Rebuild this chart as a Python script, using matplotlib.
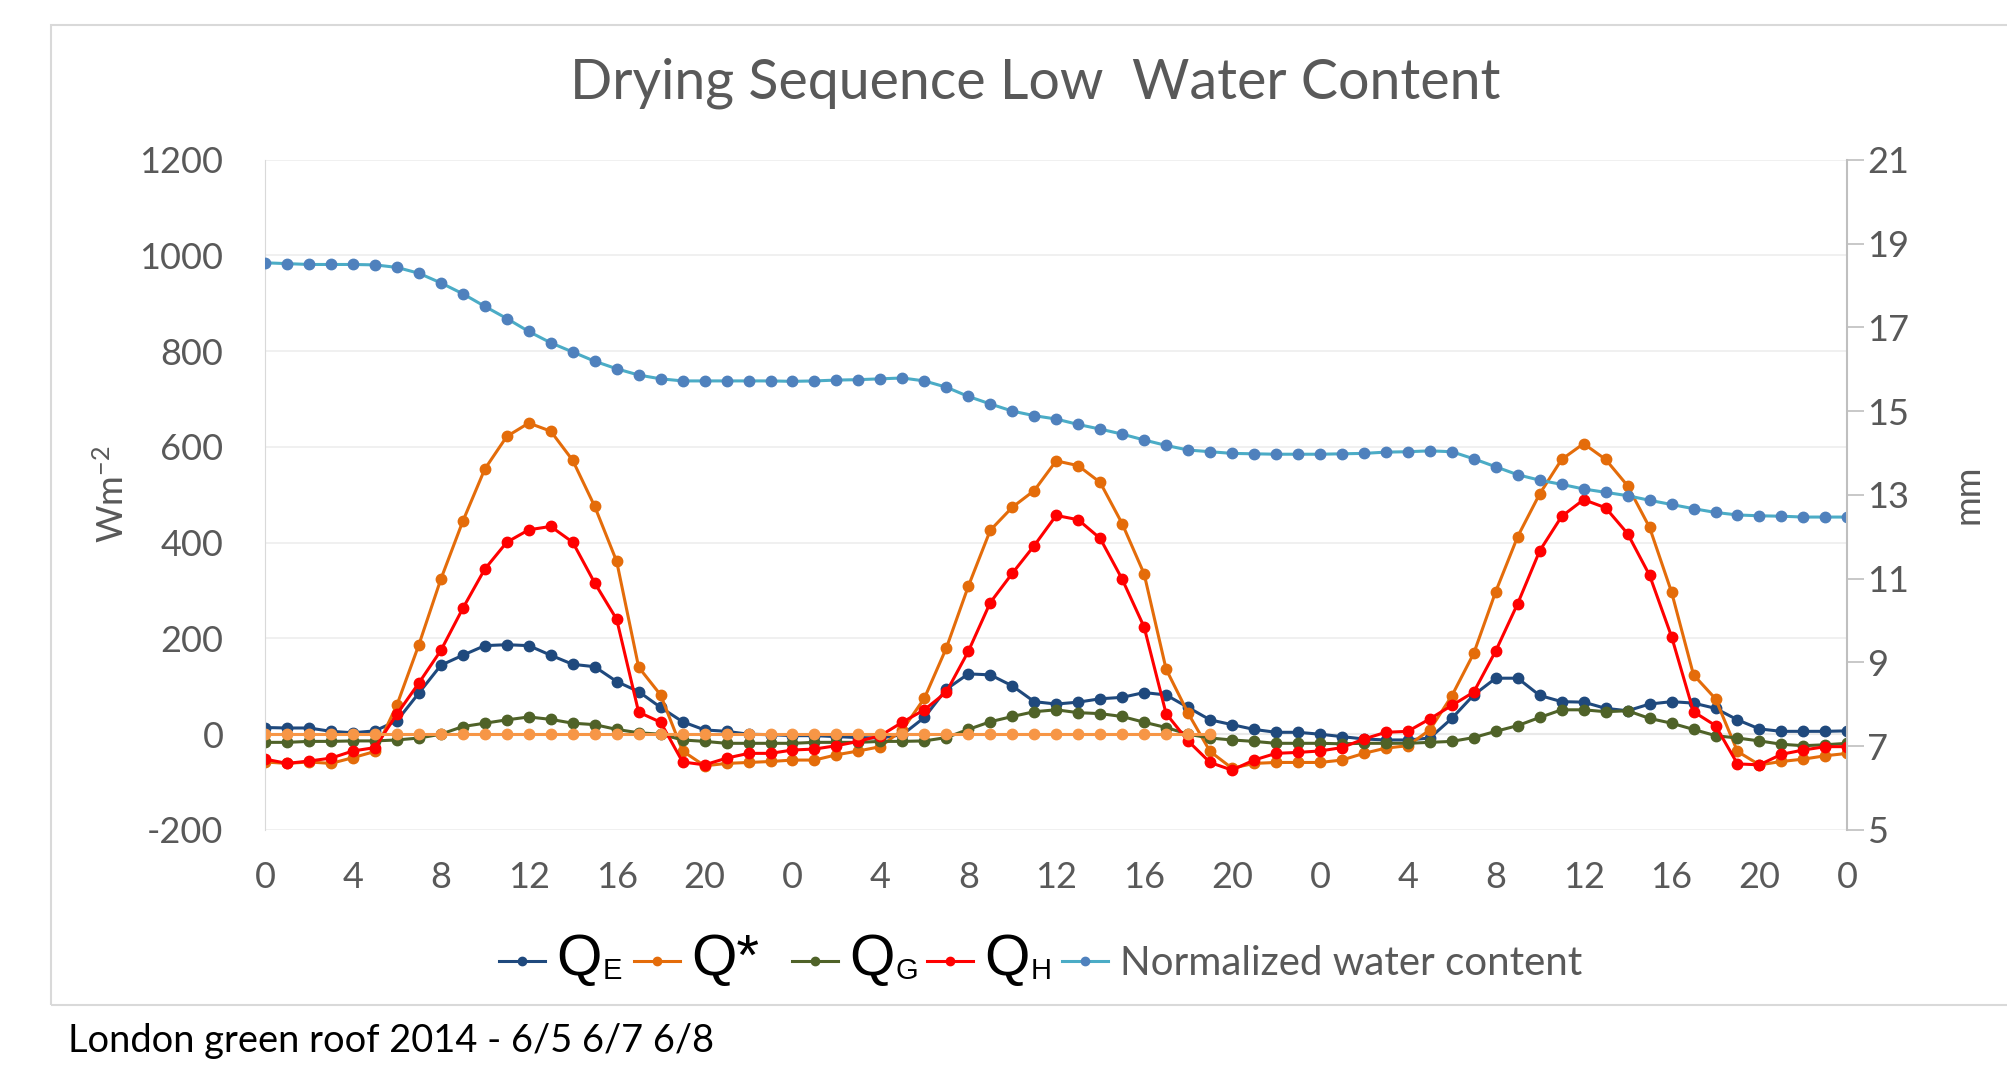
import matplotlib
matplotlib.use("Agg")
import matplotlib.pyplot as plt
from matplotlib.patches import Rectangle

plt.rcParams["axes.unicode_minus"] = False

# hourly data, 3 days (6/5, 6/7, 6/8), hour 0..72
hours = list(range(73))

q_e = [14, 13, 13, 6, 3, 7, 28, 86, 144, 165, 185, 187, 185, 165, 146, 141, 110, 89, 56, 26, 9, 6, 0, -1,
       -3, -3, -5, -7, -8, -1, 35, 94, 126, 124, 101, 68, 63, 67, 74, 77, 87, 82, 56, 30, 20, 10, 4, 4,
       0, -5, -10, -12, -12, -8, 33, 82, 117, 117, 81, 68, 67, 54, 49, 63, 68, 65, 54, 30, 11, 6, 6, 6, 7]

q_star = [-58, -61, -58, -61, -49, -36, 61, 187, 324, 445, 554, 622, 650, 633, 572, 476, 361, 140, 82, -35, -66, -61, -59, -57,
          -54, -54, -43, -35, -26, 9, 75, 180, 309, 426, 474, 509, 571, 561, 526, 440, 335, 136, 44, -36, -71, -61, -59, -59,
          -59, -54, -40, -29, -24, 9, 80, 169, 298, 413, 502, 574, 607, 574, 519, 432, 297, 124, 74, -36, -64, -57, -52, -45, -40]

q_g = [-17, -17, -15, -15, -14, -14, -12, -8, 0, 16, 23, 30, 36, 31, 23, 20, 10, 3, 0, -12, -15, -19, -19, -19,
       -19, -17, -17, -17, -15, -15, -14, -7, 10, 26, 37, 47, 51, 45, 43, 37, 25, 14, 0, -8, -12, -15, -19, -19,
       -19, -20, -19, -19, -19, -17, -15, -7, 6, 18, 35, 51, 51, 47, 49, 33, 23, 10, -3, -8, -14, -21, -24, -22, -19]

q_h = [-52, -61, -56, -50, -35, -28, 42, 107, 175, 263, 345, 401, 427, 434, 401, 316, 240, 46, 25, -58, -64, -50, -40, -40,
       -33, -31, -24, -15, -3, 25, 51, 88, 173, 275, 336, 394, 457, 448, 409, 324, 224, 43, -14, -59, -75, -54, -40, -38,
       -35, -28, -10, 4, 6, 32, 60, 88, 174, 273, 383, 455, 490, 473, 419, 332, 204, 47, 18, -62, -64, -42, -33, -26, -26]

# extra flat series (no legend entry), only up to hour 43
q_extra = [0, 0, 0, 0, 0, 0, 0, 0, 0, 0, 0, 0, 0, 0, 0, 0, 0, 0, 0, 0, 0, 0,
           0, 0, 0, 0, 0, 0, 0, 0, 0, 0, 0, 0, 0, 0, 0, 0, 0, 0, 0, 0, 0, 0]

water_mm = [18.54, 18.52, 18.50, 18.50, 18.50, 18.49, 18.43, 18.29, 18.06, 17.80, 17.50, 17.21, 16.90, 16.63, 16.41, 16.19,
            16.01, 15.86, 15.77, 15.72, 15.72, 15.72, 15.72, 15.72,
            15.71, 15.72, 15.74, 15.75, 15.77, 15.79, 15.72, 15.57, 15.35, 15.17, 15.00, 14.89, 14.81, 14.68, 14.57, 14.45,
            14.31, 14.18, 14.07, 14.03, 13.99, 13.98, 13.97, 13.97,
            13.97, 13.98, 13.99, 14.02, 14.03, 14.05, 14.03, 13.86, 13.67, 13.48, 13.35, 13.25, 13.14, 13.06, 12.98, 12.87,
            12.77, 12.67, 12.58, 12.52, 12.50, 12.49, 12.47, 12.47, 12.47]

xtick_pos = list(range(0, 73, 4))
xtick_lab = [str(h % 24) for h in xtick_pos]

# legend labels: big "Q" with small subscript letter
q_labels = ["Q", "Q*", "Q", "Q"]
q_subs = ["E", "", "G", "H"]

grey = "#595959"
font = "Lato"

fig = plt.figure(figsize=(20.08, 10.65), dpi=100)
ax = fig.add_axes([0.132, 0.2207, 0.788, 0.6293])

ms = 7.5
lw = 2.2
l1, = ax.plot(hours, q_e, color="#1F497D", marker="o", ms=ms, lw=lw, label=q_labels[0])
l2, = ax.plot(hours, q_star, color="#E46C0A", marker="o", ms=ms, lw=lw, label=q_labels[1])
l3, = ax.plot(hours, q_g, color="#4F6228", marker="o", ms=ms, lw=lw, label=q_labels[2])
l4, = ax.plot(hours, q_h, color="#FF0000", marker="o", ms=ms, lw=lw, label=q_labels[3])
ax.plot(hours[:len(q_extra)], q_extra, color="#F79646", marker="o", ms=ms, lw=lw)

ax.set_xlim(0, 72)
ax.set_ylim(-200, 1200)
ax.set_yticks(range(-200, 1201, 200))
ax.set_xticks(xtick_pos)
ax.set_xticklabels(xtick_lab)
ax.grid(axis="y", color="#EDEDED", lw=1.2)
ax.set_axisbelow(True)
ax.axhline(0, color="#D9D9D9", lw=1.5, zorder=0.5)
for s in ["top", "right", "bottom"]:
    ax.spines[s].set_visible(False)
ax.spines["left"].set_color("#D9D9D9")
ax.tick_params(axis="both", length=0, labelsize=26, labelcolor=grey)
ax.tick_params(axis="y", pad=30)
ax.tick_params(axis="x", pad=22)
for t in ax.get_xticklabels() + ax.get_yticklabels():
    t.set_fontfamily(font)

ax2 = ax.twinx()
l5, = ax2.plot(hours, water_mm, color="#4BACC6", marker="o", ms=ms, lw=lw,
               mfc="#4F81BD", mec="#4F81BD", label="Normalized water content")
ax2.set_ylim(5, 21)
ax2.set_yticks(range(5, 22, 2))
for s in ["top", "left", "bottom"]:
    ax2.spines[s].set_visible(False)
ax2.spines["right"].set_color("#BFBFBF")
ax2.spines["right"].set_linewidth(1.5)
ax2.tick_params(axis="y", length=12, width=1.2, color="#BFBFBF", labelsize=26, labelcolor=grey, pad=2)
for t in ax2.get_yticklabels():
    t.set_fontfamily(font)

fig.text(0.5156, 0.922, "Drying Sequence Low  Water Content", ha="center", va="center",
         fontsize=40, color=grey, family=font)
fig.text(0.056, 0.536, r"$\mathregular{Wm^{-2}}$", rotation=90, ha="center", va="center",
         fontsize=26, color=grey, family=font)
fig.text(0.980, 0.536, "mm", rotation=90, ha="center", va="center",
         fontsize=26, color=grey, family=font)
fig.text(0.034, 0.0225, "London green roof 2014 - 6/5 6/7 6/8", ha="left", va="center",
         fontsize=27.4, color="black", family=font)

leg = fig.legend(handles=[l1, l2, l3, l4, l5], loc="center", bbox_to_anchor=(0.518, 0.0986),
                 ncol=5, frameon=False, fontsize=29, handlelength=1.15, handletextpad=0.28,
                 columnspacing=0.8)
for h in leg.legend_handles:
    h.set_markersize(6)
texts = leg.get_texts()
qsize = 42
for t in texts[:4]:
    t.set_fontsize(qsize)
    t.set_fontfamily("Liberation Sans")
    t.set_color("black")
texts[4].set_fontfamily(font)
texts[4].set_color(grey)

fig.add_artist(Rectangle((0.0254, 0.0563), 1.0, 0.9202, transform=fig.transFigure,
                         fill=False, edgecolor="#D9D9D9", lw=1.5))

# place the small subscripts right after each legend "Q"
fig.canvas.draw()
r = fig.canvas.get_renderer()
W, H = fig.bbox.width, fig.bbox.height
px = qsize * fig.dpi / 72
for t, sub in zip(texts[:4], q_subs):
    if not sub:
        continue
    bb = t.get_window_extent(r)
    base = bb.y0 + 0.212 * px
    fig.text((bb.x1 + 1) / W, (base - 4) / H, sub, fontsize=21,
             family="Liberation Sans", color="black", ha="left", va="baseline")

fig.savefig("out.png", dpi=100)
